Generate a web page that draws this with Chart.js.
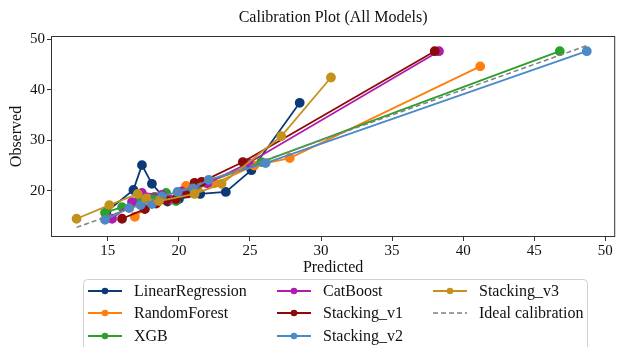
<!DOCTYPE html>
<html>
<head>
<meta charset="utf-8">
<script src="https://cdn.jsdelivr.net/npm/chart.js@4"></script>
<style>
  html, body { margin: 0; padding: 0; background: #fff; }
  #wrap { width: 621px; height: 347px; }
</style>
</head>
<body>
<div id="wrap"><canvas id="myChart" width="621" height="347"></canvas></div>
<script>
// Calibration bins per model: mean predicted vs mean observed
const models = ["LinearRegression", "RandomForest", "XGB", "CatBoost", "Stacking_v1", "Stacking_v2", "Stacking_v3"];
const colors = ["#0c3a78", "#ff7f0e", "#2ca02c", "#b01cb0", "#8b0a0a", "#4a8ac9", "#c4921c"];

const lrPred = [14.9, 16.8, 17.4, 18.1, 19.2, 20.0, 21.5, 23.3, 25.1, 28.5];
const lrObs = [15.9, 20.2, 25.1, 21.4, 17.9, 18.4, 19.4, 19.8, 24.1, 37.4];
const rfPred = [16.9, 17.6, 18.3, 19.4, 20.5, 21.3, 22.5, 25.3, 27.8, 41.2];
const rfObs = [14.9, 16.5, 18.8, 18.3, 21.0, 20.6, 21.5, 25.0, 26.5, 44.6];
const xgbPred = [14.8, 16.0, 17.2, 18.3, 19.1, 19.8, 21.3, 21.9, 25.8, 46.8];
const xgbObs = [15.7, 16.8, 17.8, 18.8, 19.6, 18.0, 21.2, 21.6, 25.7, 47.6];
const catPred = [15.3, 16.7, 17.4, 18.8, 19.3, 20.2, 21.0, 22.0, 24.9, 38.3];
const catObs = [14.5, 17.8, 19.6, 19.2, 18.3, 19.9, 20.5, 21.5, 25.5, 47.6];
const v1Pred = [16.0, 17.6, 18.4, 19.1, 19.8, 20.6, 21.1, 21.6, 24.5, 38.0];
const v1Obs = [14.5, 16.4, 17.5, 18.2, 18.4, 19.5, 21.6, 21.8, 25.7, 47.6];
const v2Pred = [14.8, 16.5, 17.3, 18.1, 18.8, 19.9, 21.0, 22.1, 26.1, 48.7];
const v2Obs = [14.3, 16.6, 17.2, 17.4, 18.9, 19.8, 20.5, 22.2, 25.5, 47.6];
const v3Pred = [12.8, 15.1, 17.1, 17.7, 18.6, 21.1, 23.0, 27.2, 30.7];
const v3Obs = [14.5, 17.2, 19.4, 18.5, 18.0, 19.4, 21.4, 30.8, 42.4];
const idealLine = [12.8, 48.8];

const xTicks = [15, 20, 25, 30, 35, 40, 45, 50];
const yTicks = [20, 30, 40, 50];

const preds = [lrPred, rfPred, xgbPred, catPred, v1Pred, v2Pred, v3Pred];
const obs = [lrObs, rfObs, xgbObs, catObs, v1Obs, v2Obs, v3Obs];

const SERIF = "'Liberation Serif', 'Times New Roman', serif";

const datasets = models.map((name, i) => ({
	label: name,
	data: preds[i].map((p, j) => ({ x: p, y: obs[i][j] })),
	borderColor: colors[i],
	backgroundColor: colors[i],
	showLine: true,
	borderWidth: 1.8,
	pointRadius: 4,
	pointHoverRadius: 4,
	order: 10 - i,
}));
datasets.push({
	label: "Ideal calibration",
	data: idealLine.map(v => ({ x: v, y: v })),
	borderColor: "#808080",
	borderDash: [5, 3],
	borderWidth: 1.5,
	showLine: true,
	pointRadius: 0,
	order: 1,
});

// title, frame and a matplotlib-style legend (3 columns, filled column-wise)
const extras = {
	id: "extras",
	afterDraw(chart) {
		const ctx = chart.ctx;
		const a = chart.chartArea;
		ctx.save();
		ctx.strokeStyle = "#333";
		ctx.lineWidth = 1;
		ctx.strokeRect(a.left + 0.5, a.top + 0.5, a.right - a.left - 1, a.bottom - a.top - 1);

		ctx.fillStyle = "#111";
		ctx.font = "16px " + SERIF;
		ctx.textAlign = "center";
		ctx.textBaseline = "middle";
		ctx.fillText("Calibration Plot (All Models)", (a.left + a.right) / 2, 18);

		// legend box
		const bx = 83.5, by = 279.5, bw = 504, bh = 80;
		ctx.beginPath();
		ctx.roundRect(bx, by, bw, bh, 4);
		ctx.fillStyle = "rgba(255,255,255,0.85)";
		ctx.fill();
		ctx.strokeStyle = "#d0d0d0";
		ctx.stroke();

		const colX = [88, 277, 433];
		const rowY = [291, 313, 336];
		datasets.forEach((d, k) => {
			const c = Math.floor(k / 3), r = k % 3;
			const x = colX[c], y = rowY[r];
			ctx.strokeStyle = d.borderColor;
			ctx.lineWidth = d.borderWidth;
			ctx.setLineDash(d.borderDash || []);
			ctx.beginPath();
			ctx.moveTo(x, y);
			ctx.lineTo(x + 34, y);
			ctx.stroke();
			ctx.setLineDash([]);
			if (d.pointRadius > 0) {
				ctx.fillStyle = d.borderColor;
				ctx.beginPath();
				ctx.arc(x + 17, y, 3.3, 0, Math.PI * 2);
				ctx.fill();
			}
			ctx.fillStyle = "#111";
			ctx.font = "16px " + SERIF;
			ctx.textAlign = "left";
			ctx.fillText(d.label, x + 46, y + 1);
		});
		ctx.restore();
	}
};

const ctx = document.getElementById("myChart").getContext("2d");
const myChart = new Chart(ctx, {
	type: "scatter",
	data: { datasets: datasets },
	options: {
		responsive: false,
		animation: false,
		layout: { padding: { top: 36, right: 2, bottom: 70, left: 7 } },
		plugins: { legend: { display: false }, tooltip: { enabled: false } },
		scales: {
			x: {
				type: "linear",
				min: 11.0,
				max: 50.7,
				afterBuildTicks: s => { s.ticks = xTicks.map(v => ({ value: v })); },
				afterFit: s => { s.height = 40; },
				grid: { display: true, drawOnChartArea: false, drawTicks: true, tickLength: 4, color: "#333" },
				border: { display: false },
				ticks: { color: "#111", font: { family: SERIF, size: 15 }, padding: 1, maxRotation: 0 },
				title: { display: true, text: "Predicted", color: "#111", font: { family: SERIF, size: 16 }, padding: { top: 0, bottom: 0 } },
			},
			y: {
				type: "linear",
				min: 10.9,
				max: 50.6,
				afterBuildTicks: s => { s.ticks = yTicks.map(v => ({ value: v })); },
				afterFit: s => { s.width = 44; },
				grid: { display: true, drawOnChartArea: false, drawTicks: true, tickLength: 4, color: "#333" },
				border: { display: false },
				ticks: { color: "#111", font: { family: SERIF, size: 15 }, padding: 2 },
				title: { display: true, text: "Observed", color: "#111", font: { family: SERIF, size: 16 }, padding: { top: 0, bottom: 0 } },
			},
		},
	},
	plugins: [extras],
});
</script>
</body>
</html>
